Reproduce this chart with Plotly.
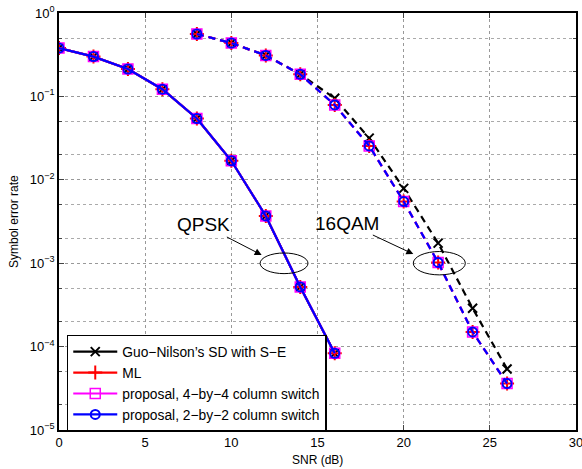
import plotly.graph_objects as go

# ---- data ----
snr_qpsk = [0, 2, 4, 6, 8, 10, 12, 14, 16]
ser_qpsk_guo = [0.38, 0.30, 0.213, 0.122, 0.0543, 0.0169, 0.00369, 5.2e-4, 8.3e-5]
ser_qpsk_ml = [0.38, 0.30, 0.213, 0.122, 0.0543, 0.0169, 0.00369, 5.2e-4, 8.3e-5]
ser_qpsk_p4 = [0.38, 0.30, 0.213, 0.122, 0.0543, 0.0169, 0.00369, 5.2e-4, 8.3e-5]
ser_qpsk_p2 = [0.38, 0.30, 0.213, 0.122, 0.0543, 0.0169, 0.00369, 5.2e-4, 8.3e-5]

snr_16qam = [8, 10, 12, 14, 16, 18, 20, 22, 24, 26]
ser_16qam_guo = [0.56, 0.436, 0.31, 0.184, 0.095, 0.0316, 0.0079, 1.74e-3, 2.88e-4, 5.4e-5]
ser_16qam_ml = [0.56, 0.436, 0.31, 0.184, 0.079, 0.0255, 0.0055, 1.02e-3, 1.5e-4, 3.6e-5]
ser_16qam_p4 = [0.56, 0.436, 0.31, 0.184, 0.079, 0.0255, 0.0055, 1.02e-3, 1.5e-4, 3.6e-5]
ser_16qam_p2 = [0.56, 0.436, 0.31, 0.184, 0.079, 0.0255, 0.0055, 1.02e-3, 1.5e-4, 3.6e-5]

series_names = ["Guo\u2212Nilson\u2019s SD with S\u2212E", "ML",
                "proposal, 4\u2212by\u22124 column switch",
                "proposal, 2\u2212by\u22122 column switch"]
ytick_vals = [1e-5, 1e-4, 1e-3, 1e-2, 1e-1, 1]
ytick_text = ["10<sup>\u22125</sup>", "10<sup>\u22124</sup>", "10<sup>\u22123</sup>",
              "10<sup>\u22122</sup>", "10<sup>\u22121</sup>", "10<sup>0</sup>"]
xtick_vals = [0, 5, 10, 15, 20, 25, 30]
x_title = "SNR (dB)"
y_title = "Symbol error rate"

styles = [
    dict(color="black", symbol="x-thin-open", size=9, lw=2),
    dict(color="red", symbol="cross-thin-open", size=10, lw=2),
    dict(color="magenta", symbol="square-open", size=10, lw=1.5),
    dict(color="blue", symbol="circle-open", size=9, lw=2),
]

qpsk_sets = [ser_qpsk_guo, ser_qpsk_ml, ser_qpsk_p4, ser_qpsk_p2]
qam_sets = [ser_16qam_guo, ser_16qam_ml, ser_16qam_p4, ser_16qam_p2]

FONT = "Liberation Sans, Arial, Helvetica, sans-serif"

fig = go.Figure()
for i, (name, st) in enumerate(zip(series_names, styles)):
    fig.add_trace(go.Scatter(
        x=snr_qpsk, y=qpsk_sets[i], mode="lines+markers", name=name,
        legendgroup=name, showlegend=True,
        line=dict(color=st["color"], width=2.2, dash="solid"),
        marker=dict(symbol=st["symbol"], size=st["size"], color=st["color"],
                    line=dict(color=st["color"], width=st["lw"])),
    ))
for i, (name, st) in enumerate(zip(series_names, styles)):
    fig.add_trace(go.Scatter(
        x=snr_16qam, y=qam_sets[i], mode="lines+markers", name=name,
        legendgroup=name, showlegend=False,
        line=dict(color=st["color"], width=2.2, dash="7px,5px"),
        marker=dict(symbol=st["symbol"], size=st["size"], color=st["color"],
                    line=dict(color=st["color"], width=st["lw"])),
    ))

# ellipses (paper coords)
fig.add_shape(type="circle", xref="paper", yref="paper",
              x0=0.389, x1=0.4816, y0=0.375, y1=0.4245,
              line=dict(color="black", width=1))
fig.add_shape(type="circle", xref="paper", yref="paper",
              x0=0.6853, x1=0.7859, y0=0.372, y1=0.428,
              line=dict(color="black", width=1))

fig.add_annotation(text="QPSK", xref="paper", yref="paper", x=0.392, y=0.4197,
                   ax=-58, ay=-30, showarrow=True, arrowhead=2, arrowsize=1.4,
                   arrowwidth=1, arrowcolor="black",
                   font=dict(family=FONT, size=19, color="black"))
fig.add_annotation(text="16QAM", xref="paper", yref="paper", x=0.6853, y=0.422,
                   ax=-66, ay=-31, showarrow=True, arrowhead=2, arrowsize=1.4,
                   arrowwidth=1, arrowcolor="black",
                   font=dict(family=FONT, size=19, color="black"))

# axis titles as annotations
fig.add_annotation(text=x_title, xref="paper", yref="paper", x=0.5, y=-0.072,
                   xanchor="center", yanchor="middle", showarrow=False,
                   font=dict(family=FONT, size=12, color="black"))
fig.add_annotation(text=y_title, xref="paper", yref="paper", x=-0.088, y=0.5,
                   xanchor="center", yanchor="middle", showarrow=False,
                   textangle=-90,
                   font=dict(family=FONT, size=12, color="black"))

fig.update_layout(
    width=582, height=469,
    margin=dict(l=59, r=6, t=13, b=39, autoexpand=False),
    paper_bgcolor="white", plot_bgcolor="white",
    font=dict(family=FONT, size=13, color="black"),
    legend=dict(x=0.015, y=-0.004, xanchor="left", yanchor="bottom",
                bgcolor="white", bordercolor="black", borderwidth=1.5,
                font=dict(family=FONT, size=13.8), tracegroupgap=0,
                itemwidth=44),
    showlegend=True,
)
fig.update_xaxes(
    range=[0, 30], tickvals=xtick_vals, ticks="inside", ticklen=5,
    showline=True, linecolor="black", linewidth=1.5, mirror="allticks",
    showgrid=True, gridcolor="#999999", griddash="dot", gridwidth=1,
    zeroline=False, tickfont=dict(size=13), automargin=False,
    ticklabeloverflow="allow",
)
fig.update_yaxes(
    type="log", range=[-5, 0], tickvals=ytick_vals, ticktext=ytick_text,
    ticks="inside", ticklen=5,
    showline=True, linecolor="black", linewidth=1.5, mirror="allticks",
    showgrid=True, gridcolor="#999999", griddash="dot", gridwidth=1,
    minor=dict(ticks="inside", ticklen=3, showgrid=True, gridcolor="#aaaaaa",
               griddash="dot", gridwidth=1),
    zeroline=False, tickfont=dict(size=13), automargin=False,
    ticklabeloverflow="allow",
)

fig.write_html("out.html", config={"displayModeBar": False},
               post_script="document.body.style.margin='0';document.body.style.overflow='hidden';")
